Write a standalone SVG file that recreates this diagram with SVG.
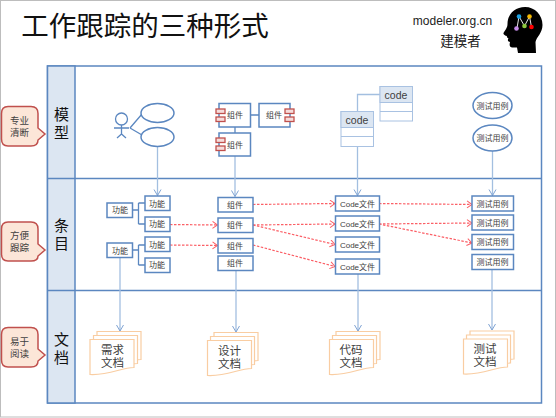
<svg xmlns="http://www.w3.org/2000/svg" width="556" height="418" viewBox="0 0 556 418">
<style>
text{font-family:"Liberation Sans","Noto Sans CJK SC",sans-serif;text-anchor:middle;fill:#404040}
.b{fill:#fff;stroke:#5b87c0;stroke-width:1.5}
.c{fill:none;stroke:#a3bfe0;stroke-width:1.300}
.s{fill:none;stroke:#5b87c0;stroke-width:1.300}
.r{fill:none;stroke:#fb5f66;stroke-width:1.200;stroke-dasharray:2.500 1.500;marker-end:url(#ra)}
.a{marker-end:url(#ba)}
.t{font-size:8px}
.lane{font-size:15px;fill:#111}
.cl{fill:#fce6d8;stroke:#c0504d;stroke-width:1.500}
.cap{font-size:9.500px}
.lug{fill:#f5dcdb;stroke:#c0504d;stroke-width:1.300}
.d{fill:#fff;stroke:#f9cda2;stroke-width:1.200}
.dt{font-size:11.500px}
.hd{fill:#dce6f2;stroke:#a9c2e2;stroke-width:1}
.cb{fill:#fff;stroke:#a9c2e2;stroke-width:1}
.ct{font-size:10.500px}
.code{font-size:8px}
</style>
<defs>
<marker id="ba" markerUnits="userSpaceOnUse" markerWidth="10" markerHeight="10" refX="7" refY="4" orient="auto"><path d="M1 0.500L7 4L1 7.500" fill="none" stroke="#7fa3d3" stroke-width="1"/></marker>
<marker id="ra" markerUnits="userSpaceOnUse" markerWidth="10" markerHeight="10" refX="6" refY="4" orient="auto"><path d="M1 0.500L6 4L1 7.500" fill="none" stroke="#fb5f66" stroke-width="1"/></marker>
<path id="doc" d="M0 0H44V28C31 28 20 36 0 35Z"/>
</defs>
<rect x="0.500" y="0.500" width="555" height="416.500" fill="#fff" stroke="#bdbdbd"/>
<g id="title"><text x="145" y="36" style="font-size:27.500px;fill:#111">工作跟踪的三种形式</text></g>
<g id="brand">
<text x="452.500" y="25" style="font-size:12px;fill:#222">modeler.org.cn</text>
<text x="460.500" y="46" style="font-size:13.500px;fill:#222">建模者</text>
</g>
<g id="logo">
<path d="M525 7C535 7 542.500 15 542.500 25C542.500 33 536.500 37 535.500 42L536 53H518L517 47.500H512C509 47 509.500 44 510 42C507.500 41.500 507.500 39.500 508.500 38.500C507 37.500 506.500 36.500 507 36C505 35.500 503 34.500 503.500 33C505 30 507.500 28 507.500 24C507.500 14 515 7 525 7Z" fill="#000"/>
<path d="M517 28L519 16.500L524.500 26L529.500 16.500L531.500 27" fill="none" stroke="#fff" stroke-width="0.900"/>
<circle cx="519" cy="16.500" r="2.300" fill="#1ba1e2"/><circle cx="529.500" cy="16.500" r="2.300" fill="#f5b800"/>
<circle cx="516.500" cy="28.500" r="2.300" fill="#c58be8"/><circle cx="524.500" cy="26" r="2.300" fill="#8dc63f"/><circle cx="531.500" cy="27" r="2.300" fill="#f00"/>
</g>
<g id="frame">
<rect x="47.500" y="66" width="494" height="337" fill="#fff" stroke="#5b87c0" stroke-width="1.500"/>
<rect x="47.500" y="66" width="27.500" height="337" fill="#dce6f2" stroke="#5b87c0" stroke-width="1.500"/>
<path d="M47.500 178.500H541.500M47.500 290.500H541.500" stroke="#5b87c0" stroke-width="1.300" fill="none"/>
</g>
<g id="lane-model"><text class="lane" x="61.500" y="120">模<tspan x="61.500" dy="17.500">型</tspan></text></g>
<g id="lane-item"><text class="lane" x="61.500" y="231">条<tspan x="61.500" dy="18">目</tspan></text></g>
<g id="lane-doc"><text class="lane" x="61.500" y="345">文<tspan x="61.500" dy="17.500">档</tspan></text></g>
<g id="callout-1"><path class="cl" d="M8 106.500H31Q38 106.500 38 113.500V128L45 134L38 140Q38 146 31 146H8Q1.500 146 1.500 139V113.500Q1.500 106.500 8 106.500Z"/><text class="cap" x="19.500" y="123.500">专业<tspan x="19.500" dy="12">清断</tspan></text></g>
<g id="callout-2"><path class="cl" d="M8 222H31Q38 222 38 229V244L45 250L38 256Q38 261 31 261H8Q1.500 261 1.500 254V229Q1.500 222 8 222Z"/><text class="cap" x="19.500" y="238.500">方便<tspan x="19.500" dy="12.500">跟踪</tspan></text></g>
<g id="callout-3"><path class="cl" d="M8 327.500H31Q38 327.500 38 334.500V349L45 355L38 361Q38 367 31 367H8Q1.500 367 1.500 360V334.500Q1.500 327.500 8 327.500Z"/><text class="cap" x="19.500" y="345">易于<tspan x="19.500" dy="12">阅读</tspan></text></g>
<g id="connectors">
<path class="c a" d="M157.500 146.500V195.500"/>
<path class="c a" d="M235 156V196.500"/>
<path class="c a" d="M357.500 146V195.500"/>
<path class="c a" d="M492.500 151V195.500"/>
<path class="c a" d="M120 257.500V331"/>
<path class="c a" d="M236 270V332"/>
<path class="c a" d="M358 274V331"/>
<path class="c a" d="M492 270V330"/>
<path class="c" d="M357.500 111V94.500H380"/>
<path class="s" d="M250 115H259M235 127V133M130 128L142 114M130 128L142 135"/>
<path class="s" d="M132 210H138.500M138.500 203V224M138.500 203H145M138.500 224H145M132 250H138.500M138.500 245V265M138.500 245H145M138.500 265H145"/>
<path class="r" d="M170 224.500L217.500 225"/>
<path class="r" d="M170 245L217.500 245.500"/>
<path class="r" d="M253 204.500L335 203.500"/>
<path class="r" d="M253 225L335 224"/>
<path class="r" d="M253 225L335 244.500"/>
<path class="r" d="M253 245L335 266.500"/>
<path class="r" d="M379 203.500L472 204.500"/>
<path class="r" d="M379 224L472 223"/>
<path class="r" d="M379 224L472 243"/>
</g>
<g id="actor" class="s"><circle cx="121.500" cy="119" r="6" fill="#fff"/><path d="M121.500 125V134M114 128H129M121.500 134L117 138M121.500 134L126 138" fill="none"/></g>
<g id="usecase-1"><ellipse class="b" cx="157.500" cy="113" rx="16.500" ry="9.500"/></g>
<g id="usecase-2"><ellipse class="b" cx="157.500" cy="137" rx="16.500" ry="9.500"/></g>
<g id="comp-1"><rect class="b" x="219" y="103.500" width="31.500" height="23.500"/><rect class="lug" x="216" y="109" width="9" height="4.500"/><rect class="lug" x="216" y="117" width="9" height="4.500"/><text class="t" x="235" y="118">组件</text></g>
<g id="comp-2"><rect class="b" x="259" y="103.500" width="31" height="23.500"/><rect class="lug" x="285" y="109" width="9" height="4.500"/><rect class="lug" x="285" y="117" width="9" height="4.500"/><text class="t" x="274" y="118">组件</text></g>
<g id="comp-3"><rect class="b" x="219" y="133" width="31.500" height="23"/><rect class="lug" x="216" y="138" width="9" height="4.500"/><rect class="lug" x="216" y="146" width="9" height="4.500"/><text class="t" x="235" y="147.500">组件</text></g>
<g id="class-1"><rect class="cb" x="341" y="111.500" width="32.500" height="35"/><rect class="hd" x="341" y="111.500" width="32.500" height="16"/><path class="cb" d="M341 136.500H373.500"/><text class="ct" x="357" y="124">code</text></g>
<g id="class-2"><rect class="cb" x="380" y="86.500" width="32.500" height="34.500"/><rect class="hd" x="380" y="86.500" width="32.500" height="16"/><path class="cb" d="M380 111.500H412.500"/><text class="ct" x="396" y="99">code</text></g>
<g id="test-1"><ellipse class="b" cx="492.500" cy="105.500" rx="19.500" ry="13"/><text class="t" x="492.500" y="108.500">测试用例</text></g>
<g id="test-2"><ellipse class="b" cx="492.500" cy="138" rx="19.500" ry="13"/><text class="t" x="492.500" y="141">测试用例</text></g>
<g id="func-a"><rect class="b" x="107" y="203" width="25.500" height="14.500"/><text class="t" x="120" y="213">功能</text></g>
<g id="func-b"><rect class="b" x="107" y="243" width="25.500" height="14.500"/><text class="t" x="120" y="253.500">功能</text></g>
<g id="func-1"><rect class="b" x="145" y="196" width="25" height="14.500"/><text class="t" x="157" y="206.500">功能</text></g>
<g id="func-2"><rect class="b" x="145" y="217" width="25" height="14.500"/><text class="t" x="157" y="227">功能</text></g>
<g id="func-3"><rect class="b" x="145" y="237" width="25" height="14.500"/><text class="t" x="157" y="248">功能</text></g>
<g id="func-4"><rect class="b" x="145" y="258" width="25" height="14.500"/><text class="t" x="157" y="268">功能</text></g>
<g id="item-1"><rect class="b" x="218" y="197.500" width="35" height="14.500"/><text class="t" x="235" y="207.500">组件</text></g>
<g id="item-2"><rect class="b" x="218" y="218" width="35" height="14.500"/><text class="t" x="235" y="228">组件</text></g>
<g id="item-3"><rect class="b" x="218" y="238.500" width="35" height="14.500"/><text class="t" x="235" y="248.500">组件</text></g>
<g id="item-4"><rect class="b" x="218" y="256" width="35" height="14.500"/><text class="t" x="235" y="266">组件</text></g>
<g id="code-1"><rect class="b" x="335.500" y="196" width="44" height="15"/><text class="code" x="357.500" y="206.500">Code文件</text></g>
<g id="code-2"><rect class="b" x="335.500" y="216" width="44" height="15"/><text class="code" x="357.500" y="226.500">Code文件</text></g>
<g id="code-3"><rect class="b" x="335.500" y="237" width="44" height="15"/><text class="code" x="357.500" y="247.500">Code文件</text></g>
<g id="code-4"><rect class="b" x="335.500" y="259" width="44" height="15"/><text class="code" x="357.500" y="269.500">Code文件</text></g>
<g id="case-1"><rect class="b" x="472" y="196" width="41.500" height="15"/><text class="t" x="492.500" y="206.500">测试用例</text></g>
<g id="case-2"><rect class="b" x="472" y="215" width="41.500" height="15"/><text class="t" x="492.500" y="225.500">测试用例</text></g>
<g id="case-3"><rect class="b" x="472" y="234.500" width="41.500" height="15"/><text class="t" x="492.500" y="245">测试用例</text></g>
<g id="case-4"><rect class="b" x="472" y="254.500" width="41.500" height="15"/><text class="t" x="492.500" y="265">测试用例</text></g>
<g id="doc-req"><use href="#doc" class="d" x="97" y="331.500"/><use href="#doc" class="d" x="93.500" y="335.500"/><use href="#doc" class="d" x="90" y="339.500"/><text class="dt" x="112.500" y="354">需求<tspan x="112.500" dy="13.300">文档</tspan></text></g>
<g id="doc-des"><use href="#doc" class="d" x="214" y="332.500"/><use href="#doc" class="d" x="210.500" y="336.500"/><use href="#doc" class="d" x="207.500" y="340.500"/><text class="dt" x="229.500" y="355">设计<tspan x="229.500" dy="13.300">文档</tspan></text></g>
<g id="doc-code"><use href="#doc" class="d" x="336" y="331.500"/><use href="#doc" class="d" x="332.500" y="335.500"/><use href="#doc" class="d" x="329.500" y="339.500"/><text class="dt" x="351" y="354">代码<tspan x="351" dy="13.300">文档</tspan></text></g>
<g id="doc-test"><use href="#doc" class="d" x="470" y="331"/><use href="#doc" class="d" x="466.500" y="335"/><use href="#doc" class="d" x="463.500" y="339"/><text class="dt" x="485" y="353">测试<tspan x="485" dy="13.300">文档</tspan></text></g>
</svg>
